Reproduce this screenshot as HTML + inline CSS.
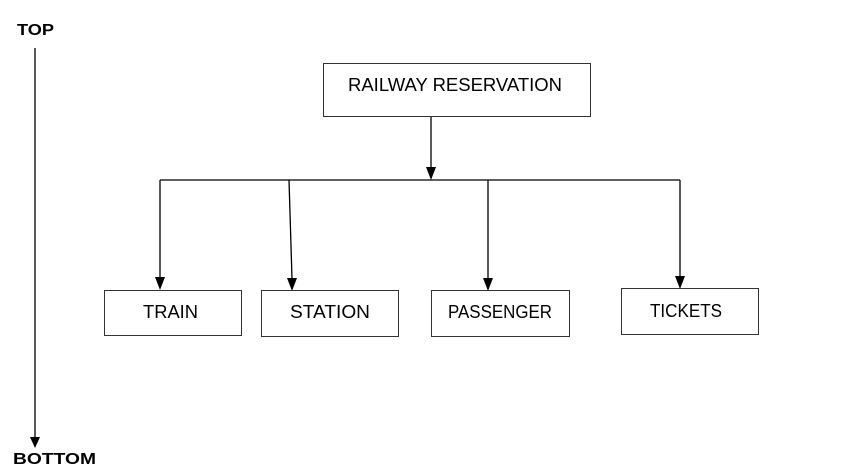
<!DOCTYPE html>
<html><head><style>
body{margin:0;background:#fff;}
svg{display:block;}
text{font-family:"Liberation Sans",sans-serif;font-size:18px;fill:#000;}
</style></head><body>
<svg width="862" height="470" xmlns="http://www.w3.org/2000/svg">
<rect width="862" height="470" fill="#fff"/>
<text x="17" y="35" font-weight="bold" style="font-size:16px" textLength="37" lengthAdjust="spacingAndGlyphs">TOP</text>
<line x1="35" y1="48" x2="35" y2="438" stroke="#000" stroke-width="1.3"/>
<polygon points="30,437 40,437 35,448" fill="#000"/>
<text x="13" y="464" font-weight="bold" style="font-size:16px" textLength="83" lengthAdjust="spacingAndGlyphs">BOTTOM</text>
<rect x="323.5" y="63.5" width="267" height="53" fill="#fff" stroke="#333" stroke-width="1"/>
<text x="348" y="91" textLength="214" lengthAdjust="spacingAndGlyphs">RAILWAY RESERVATION</text>
<line x1="431" y1="117" x2="431" y2="168" stroke="#000" stroke-width="1.3"/>
<polygon points="426,167 436,167 431,180" fill="#000"/>
<line x1="160" y1="180" x2="680" y2="180" stroke="#000" stroke-width="1.3"/>
<g stroke="#000" stroke-width="1.3">
<line x1="160" y1="180" x2="160" y2="278"/>
<line x1="289" y1="180" x2="292" y2="279"/>
<line x1="488" y1="180" x2="488" y2="279"/>
<line x1="680" y1="180" x2="680" y2="277"/>
</g>
<g fill="#000">
<polygon points="155,277 165,277 160,290"/>
<polygon points="287,278 297,278 292,291"/>
<polygon points="483,278 493,278 488,291"/>
<polygon points="675,276 685,276 680,289"/>
</g>
<g fill="#fff" stroke="#333" stroke-width="1">
<rect x="104.5" y="290.5" width="137" height="45"/>
<rect x="261.5" y="290.5" width="137" height="46"/>
<rect x="431.5" y="290.5" width="138" height="46"/>
<rect x="621.5" y="288.5" width="137" height="46"/>
</g>
<text x="143" y="318" textLength="55" lengthAdjust="spacingAndGlyphs">TRAIN</text>
<text x="290" y="318" textLength="80" lengthAdjust="spacingAndGlyphs">STATION</text>
<text x="448" y="318" textLength="104" lengthAdjust="spacingAndGlyphs">PASSENGER</text>
<text x="650" y="317" textLength="72" lengthAdjust="spacingAndGlyphs">TICKETS</text>
</svg>
</body></html>
